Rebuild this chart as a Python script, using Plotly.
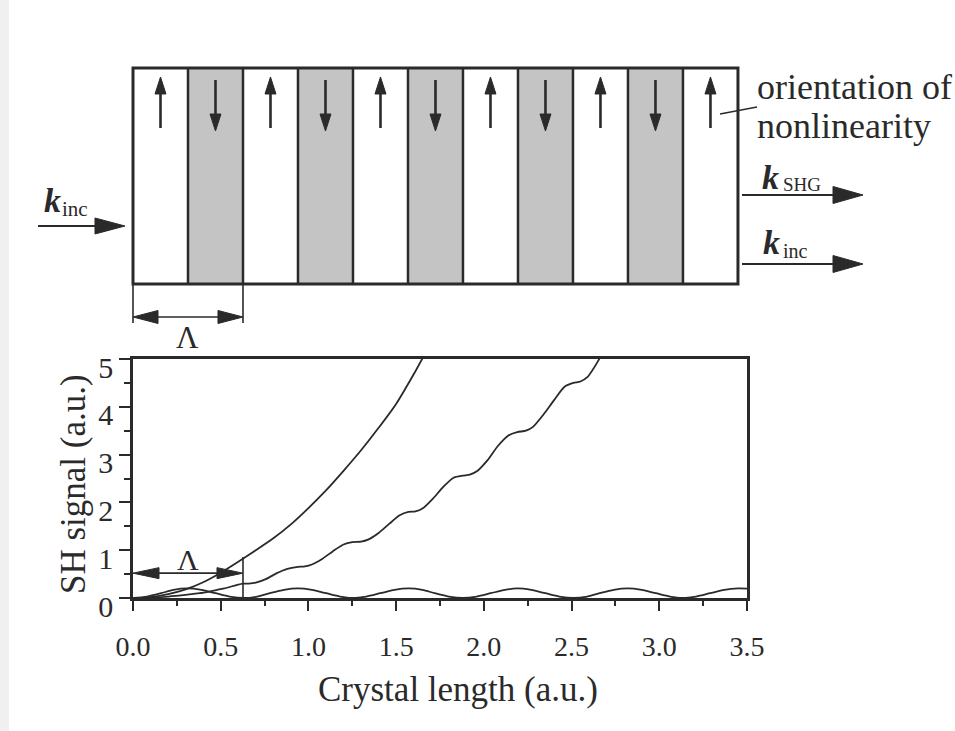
import plotly.graph_objects as go

# ---------------- data ----------------
# perfect phase matching
pm_x = [0, 0.1, 0.2, 0.3, 0.4, 0.5, 0.6, 0.7, 0.8, 0.9, 1.0, 1.1, 1.2, 1.3, 1.4, 1.5, 1.6, 1.7]
pm_y = [0, 0.02, 0.08, 0.18, 0.33, 0.53, 0.76, 1.00, 1.25, 1.54, 1.88, 2.25, 2.66, 3.09, 3.56, 4.06, 4.68, 5.35]

# quasi phase matching
qpm_x = [0, 0.10, 0.20, 0.31, 0.38, 0.44, 0.52, 0.59, 0.627, 0.66, 0.70, 0.76, 0.82, 0.88,
         0.94, 0.98, 1.02, 1.08, 1.14, 1.20, 1.25, 1.30, 1.34, 1.40, 1.46, 1.52, 1.57, 1.61,
         1.65, 1.71, 1.77, 1.83, 1.88, 1.92, 1.96, 2.02, 2.08, 2.14, 2.19, 2.24, 2.28, 2.34,
         2.40, 2.46, 2.51, 2.55, 2.59, 2.65, 2.70]
qpm_y = [0, 0.007, 0.03, 0.07, 0.10, 0.14, 0.20, 0.27, 0.30, 0.30, 0.32, 0.40, 0.52, 0.61,
         0.65, 0.66, 0.70, 0.82, 0.98, 1.12, 1.17, 1.18, 1.22, 1.36, 1.55, 1.73, 1.80, 1.81,
         1.87, 2.08, 2.33, 2.52, 2.56, 2.58, 2.65, 2.88, 3.18, 3.40, 3.47, 3.50, 3.58, 3.84,
         4.14, 4.42, 4.50, 4.53, 4.62, 4.95, 5.30]

# no phase matching
npm_x = [0, 0.08, 0.16, 0.23, 0.31, 0.39, 0.47, 0.55, 0.63, 0.71, 0.78, 0.86, 0.94, 1.02,
         1.10, 1.18, 1.25, 1.33, 1.41, 1.49, 1.57, 1.65, 1.72, 1.80, 1.88, 1.96, 2.04, 2.12,
         2.19, 2.27, 2.35, 2.43, 2.51, 2.59, 2.66, 2.74, 2.82, 2.90, 2.98, 3.06, 3.13, 3.21,
         3.29, 3.37, 3.45, 3.50]
npm_y = [0, 0.03, 0.10, 0.17, 0.20, 0.17, 0.10, 0.03, 0, 0.03, 0.10, 0.17, 0.20, 0.17,
         0.10, 0.03, 0, 0.03, 0.10, 0.17, 0.20, 0.17, 0.10, 0.03, 0, 0.03, 0.10, 0.17,
         0.20, 0.17, 0.10, 0.03, 0, 0.03, 0.10, 0.17, 0.20, 0.17, 0.10, 0.03, 0, 0.03,
         0.10, 0.17, 0.20, 0.195]

x_ticks = [0, 0.5, 1.0, 1.5, 2.0, 2.5, 3.0, 3.5]
x_tick_labels = ["0.0", "0.5", "1.0", "1.5", "2.0", "2.5", "3.0", "3.5"]
y_ticks = [0, 1, 2, 3, 4, 5]
y_tick_labels = ["0", "1", "2", "3", "4", "5"]

LAMBDA = 0.627                      # poling period (a.u.)
domain_orientation = ["up", "down", "up", "down", "up", "down",
                      "up", "down", "up", "down", "up"]
LAMBDA_ARROW_Y = 0.52               # height of the Λ arrow in the lower plot
LAMBDA_MARK_TOP = 0.86              # top of the Λ marker line

# ---------------- geometry helpers ----------------
FIG_W, FIG_H = 955, 731
ML, MR, MT, MB = 133, 208, 0, 133
PW = FIG_W - ML - MR
PH = FIG_H - MT - MB
X_MAX, Y_MAX = 3.5, 5
PLOT_TOP_PX = 359
Y_DOM_TOP = (FIG_H - MB - PLOT_TOP_PX) / PH

INK = "#2a2a2a"
FONT = "Liberation Serif"


def xp(px):      # pixel x -> paper
    return (px - ML) / PW


def yp(py):      # pixel y -> paper
    return (FIG_H - MB - py) / PH


def d2px(x):     # data x -> pixel
    return ML + x / X_MAX * PW


def yd2py(y):    # data y (lower plot) -> pixel
    return (FIG_H - MB) - y / Y_MAX * (FIG_H - MB - PLOT_TOP_PX)


shapes = []


def line(x0, y0, x1, y1, w=2, color=INK):
    shapes.append(dict(type="line", xref="paper", yref="paper",
                       x0=xp(x0), y0=yp(y0), x1=xp(x1), y1=yp(y1),
                       line=dict(color=color, width=w)))


def tri(pts, color=INK):
    d = "M " + " L ".join(f"{xp(a):.5f},{yp(b):.5f}" for a, b in pts) + " Z"
    shapes.append(dict(type="path", xref="paper", yref="paper", path=d,
                       fillcolor=color, line=dict(color=color, width=1)))


def h_arrow(x0, x1, y, head=30, half=8, w=2.2):
    line(x0, y, x1 - head + 2, y, w)
    tri([(x1, y), (x1 - head, y - half), (x1 - head, y + half)])


def v_arrow(x, y_tail, y_tip, head=17, half=5.5, w=2.6):
    s = 1 if y_tip > y_tail else -1
    line(x, y_tail, x, y_tip - s * (head - 2), w)
    tri([(x, y_tip), (x - half, y_tip - s * head), (x + half, y_tip - s * head)])


def dbl_arrow(x0, x1, y, head=25, half=6.5, w=1.6):
    line(x0 + head - 2, y, x1 - head + 2, y, w)
    tri([(x0, y), (x0 + head, y - half), (x0 + head, y + half)])
    tri([(x1, y), (x1 - head, y - half), (x1 - head, y + half)])


# faint scan edge
shapes.append(dict(type="rect", xref="paper", yref="paper", x0=xp(0), x1=xp(9),
                   y0=yp(FIG_H), y1=yp(0), fillcolor="#f0f0f0", line=dict(width=0),
                   layer="below"))

# ---------------- schematic of the poled crystal ----------------
R_TOP, R_BOT = 68, 284
half_period = LAMBDA / 2
n_dom = len(domain_orientation)
for i, o in enumerate(domain_orientation):
    a, b = d2px(i * half_period), d2px((i + 1) * half_period)
    if o == "down":
        shapes.append(dict(type="rect", xref="paper", yref="paper",
                           x0=xp(a), x1=xp(b), y0=yp(R_BOT), y1=yp(R_TOP),
                           fillcolor="#c4c4c4", line=dict(width=0)))
for i in range(1, n_dom):
    xw = d2px(i * half_period)
    line(xw, R_TOP, xw, R_BOT, 2.5)
shapes.append(dict(type="rect", xref="paper", yref="paper",
                   x0=xp(d2px(0)), x1=xp(d2px(n_dom * half_period)),
                   y0=yp(R_BOT), y1=yp(R_TOP), line=dict(color=INK, width=3)))
for i, o in enumerate(domain_orientation):
    cx = d2px((i + 0.5) * half_period)
    if o == "up":
        v_arrow(cx, 128, 77)
    else:
        v_arrow(cx, 80, 131)

# incoming / outgoing beams
h_arrow(38, 125, 226)
h_arrow(742, 863, 195, half=8.5)
h_arrow(742, 863, 264, half=8.5)
# leader line for the label
line(720, 114, 757, 107, 1.5)

# Λ dimension under the crystal
line(d2px(0), R_BOT, d2px(0), 323, 1.6)
line(d2px(LAMBDA), R_BOT, d2px(LAMBDA), 323, 1.6)
dbl_arrow(d2px(0), d2px(LAMBDA), 317, head=25, half=6.5)

# Λ marker inside the lower plot
line(d2px(LAMBDA), yd2py(0), d2px(LAMBDA), yd2py(LAMBDA_MARK_TOP), 1.6)
dbl_arrow(d2px(0), d2px(LAMBDA), yd2py(LAMBDA_ARROW_Y), head=26, half=5.5)


# ---------------- annotations ----------------
def txt(s, px, py, size, xanchor="center", yanchor="middle", angle=0):
    return dict(text=s, x=xp(px), y=yp(py), xref="paper", yref="paper",
                showarrow=False, xanchor=xanchor, yanchor=yanchor, textangle=angle,
                font=dict(family=FONT, size=size, color=INK))


annotations = [
    txt("orientation of", 755, 87, 36, xanchor="left"),
    txt("nonlinearity", 755, 126, 36, xanchor="left"),
    txt("<b><i>k</i></b>", 52, 200, 34),
    txt("inc", 75, 209, 21),
    txt("<b><i>k</i></b>", 770, 177, 34),
    txt("SHG", 802, 184, 19),
    txt("<b><i>k</i></b>", 771, 243, 34),
    txt("inc", 795, 251, 20),
    txt("Λ", d2px(LAMBDA / 2), 337, 31),
    txt("Λ", d2px(LAMBDA / 2), 559, 30),
    txt("Crystal length (a.u.)", 458, 690, 35),
    txt("SH signal (a.u.)", 73, 484, 35, angle=-90),
]

# ---------------- figure ----------------
fig = go.Figure()
for xs, ys in [(pm_x, pm_y), (qpm_x, qpm_y), (npm_x, npm_y)]:
    fig.add_trace(go.Scatter(x=xs, y=ys, mode="lines", hoverinfo="skip",
                             line=dict(color=INK, width=1.8, shape="spline", smoothing=0.7)))

axis_common = dict(showline=True, linewidth=2.5, linecolor=INK, mirror=True,
                   ticks="outside", tickwidth=2, tickcolor=INK, showgrid=False,
                   zeroline=False, fixedrange=True, automargin=False)
fig.update_layout(
    width=FIG_W, height=FIG_H,
    margin=dict(l=ML, r=MR, t=MT, b=MB, pad=0, autoexpand=False),
    paper_bgcolor="white", plot_bgcolor="white",
    showlegend=False,
    xaxis=dict(range=[0, X_MAX], tickvals=x_ticks, ticktext=x_tick_labels, ticklen=10,
               tickfont=dict(family=FONT, size=28, color=INK), ticklabelstandoff=12,
               minor=dict(ticks="outside", ticklen=5, tickwidth=1.5, tickcolor=INK,
                          dtick=0.25, tick0=0),
               **axis_common),
    yaxis=dict(range=[0, Y_MAX], domain=[0, Y_DOM_TOP], tickvals=y_ticks,
               ticktext=y_tick_labels, ticklen=11,
               tickfont=dict(family=FONT, size=30, color=INK), ticklabelstandoff=0,
               ticklabelshift=8,
               minor=dict(ticks="outside", ticklen=6, tickwidth=1.5, tickcolor=INK,
                          dtick=0.5, tick0=0),
               **axis_common),
    shapes=shapes,
    annotations=annotations,
)

fig.write_html("out.html")
